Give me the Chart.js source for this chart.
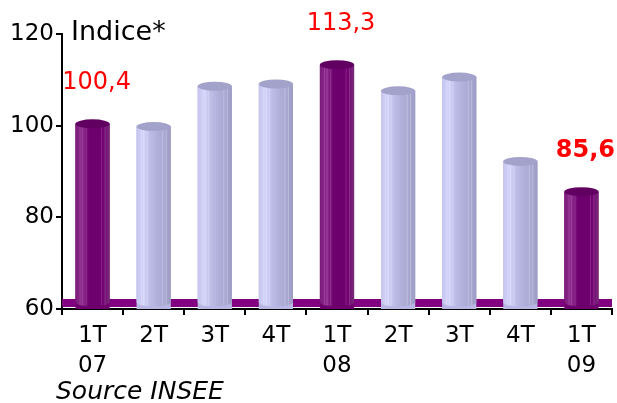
<!DOCTYPE html>
<html>
<head>
<meta charset="utf-8">
<script src="https://cdn.jsdelivr.net/npm/chart.js@4/dist/chart.umd.min.js"></script>
<style>
html,body{margin:0;padding:0;background:#fff;}
#wrap{width:617px;height:403px;position:relative;}
</style>
</head>
<body>
<div id="wrap"><canvas id="c" width="617" height="403"></canvas></div>
<script>
const quarters = ['1T','2T','3T','4T','1T','2T','3T','4T','1T'];
const years    = ['07','','','','08','','','','09'];
const values   = [100.4, 99.8, 108.6, 109.1, 113.3, 107.6, 110.6, 92.2, 85.6];
const highlighted = [true, false, false, false, true, false, false, false, true];
const valueLabels = ['100,4', '', '', '', '113,3', '', '', '', '85,6'];
const boldLabels  = [false, false, false, false, false, false, false, false, true];
const yTicks = [60, 80, 100, 120];
const yMin = 60, yMax = 120;

const purple = {top:'#620062', stops:['#7c1a7c','#8c2e8c','#6e006e','#6c006c','#700070','#7a2c7a']};
const lav    = {top:'#a2a2ca', stops:['#c4c4ee','#d4d4fa','#bcbce6','#b0b0da','#a8a8d2','#9c9cc4']};

const cylPlugin = {
  id:'cyl',
  beforeDatasetsDraw(chart){
    const ctx = chart.ctx, a = chart.chartArea;
    const base = chart.scales.y.getPixelForValue(yMin);
    ctx.save();
    ctx.fillStyle = '#800080';
    ctx.fillRect(a.left, base - 10, a.right - a.left, 8);
    ctx.restore();
  },
  afterDatasetsDraw(chart){
    const ctx = chart.ctx;
    const meta = chart.getDatasetMeta(0);
    const basePx = chart.scales.y.getPixelForValue(yMin);
    meta.data.forEach((el, i) => {
      const p = el.getProps(['x','y','width'], true);
      const w = p.width, x0 = p.x - w/2, rx = w/2, ry = 4.5;
      const pal = highlighted[i] ? purple : lav;
      const g = ctx.createLinearGradient(x0, 0, x0 + w, 0);
      pal.stops.forEach((c, k) => g.addColorStop(k/(pal.stops.length-1), c));
      const bottom = basePx - 7;
      ctx.save();
      ctx.beginPath();
      ctx.moveTo(x0, p.y);
      ctx.lineTo(x0, bottom);
      ctx.ellipse(p.x, bottom, rx, ry, 0, Math.PI, 0, true);
      ctx.lineTo(x0 + w, p.y);
      ctx.closePath();
      ctx.fillStyle = g;
      ctx.fill();
      ctx.globalAlpha = 0.35;
      ctx.fillStyle = highlighted[i] ? '#c060c0' : '#e8e8ff';
      [0.12, 0.2, 0.3, 0.75, 0.85].forEach(f => ctx.fillRect(x0 + w*f, p.y, 1, bottom - p.y + ry - 1));
      ctx.globalAlpha = 1;
      ctx.beginPath();
      ctx.ellipse(p.x, p.y, rx, ry, 0, 0, Math.PI*2);
      ctx.fillStyle = pal.top;
      ctx.fill();
      ctx.restore();
      if (valueLabels[i]) {
        ctx.save();
        ctx.fillStyle = '#ff0000';
        ctx.font = (boldLabels[i] ? 'bold ' : '') + '24px "DejaVu Sans", Verdana, sans-serif';
        ctx.textAlign = 'center';
        ctx.textBaseline = 'middle';
        ctx.fillText(valueLabels[i], p.x + 4, p.y - 41);
        ctx.restore();
      }
    });
  },
  afterDraw(chart){
    const ctx = chart.ctx;
    ctx.save();
    ctx.fillStyle = '#000';
    ctx.textBaseline = 'alphabetic';
    ctx.font = '27px "DejaVu Sans", Verdana, sans-serif';
    ctx.fillText('Indice*', 71, 40);
    ctx.font = 'italic 25px "DejaVu Sans", Verdana, sans-serif';
    ctx.fillText('Source INSEE', 56, 399);
    ctx.restore();
  }
};

new Chart(document.getElementById('c'), {
  type:'bar',
  data:{
    labels: quarters.map((q,i)=> years[i] ? [q, years[i]] : [q]),
    datasets:[{
      data: values,
      backgroundColor: highlighted.map(h => h ? '#6e006e' : '#b8b8e2'),
      borderWidth:0,
      barPercentage:0.56,
      categoryPercentage:1
    }]
  },
  options:{
    responsive:false,
    animation:false,
    layout:{padding:{top:34,right:5,left:0,bottom:0}},
    plugins:{legend:{display:false},tooltip:{enabled:false}},
    scales:{
      y:{
        min:yMin,max:yMax,
        afterBuildTicks(s){ s.ticks = yTicks.map(v=>({value:v})); },
        afterFit(s){ s.width = 62; },
        border:{display:true,color:'#000',width:2},
        grid:{drawOnChartArea:false,drawTicks:true,tickLength:6,color:'#000',lineWidth:2},
        ticks:{color:'#000',padding:2,font:{family:'"DejaVu Sans", Verdana, sans-serif',size:23}}
      },
      x:{
        afterFit(s){ s.height = 94; },
        border:{display:true,color:'#000',width:2},
        grid:{offset:true,drawOnChartArea:false,drawTicks:true,tickLength:6,color:'#000',lineWidth:2},
        ticks:{color:'#000',padding:6,maxRotation:0,autoSkip:false,
          font:{family:'"DejaVu Sans", Verdana, sans-serif',size:23,lineHeight:1.3}}
      }
    }
  },
  plugins:[cylPlugin]
});
</script>
</body>
</html>
